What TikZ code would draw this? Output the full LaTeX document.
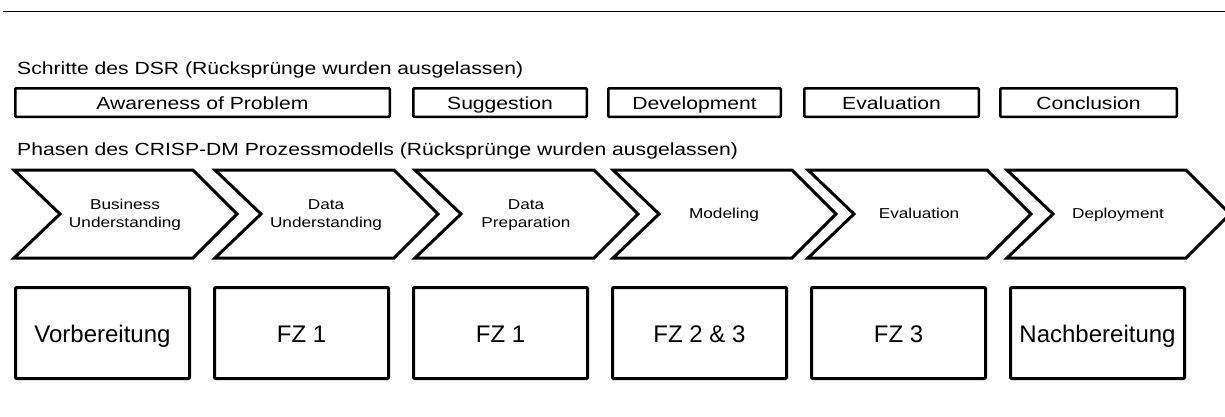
\documentclass[tikz,border=0pt]{standalone}
\usepackage{fontspec}
\setmainfont{Liberation Sans}
\newfontfamily\widefont{Liberation Sans}[FakeStretch=1.2]
\newcommand\chs{\rule[-4pt]{0pt}{15pt}}
\begin{document}
\begin{tikzpicture}[x=1pt,y=-1pt,
  dsr/.style={draw, line width=2.5pt, rounded corners=1pt, minimum height=28.5pt, inner sep=0pt, text height=14pt, text depth=0pt, font=\widefont\fontsize{17.6}{20}\selectfont},
  chev/.style={draw, line width=3pt, line join=miter},
  chevtext/.style={align=center, inner sep=0pt, font=\widefont\fontsize{14.35}{18}\selectfont},
  phase/.style={draw, line width=3pt, rounded corners=1pt, minimum width=174pt, minimum height=91pt, inner sep=0pt, text height=18.6pt, text depth=0pt, font=\fontsize{24}{28}\selectfont},
  title/.style={anchor=base west, inner sep=0pt, font=\widefont\fontsize{17.6}{20}\selectfont}]
\useasboundingbox (0,0) rectangle (1225,416);
\coordinate (l0) at (3,11);
\coordinate (l1) at (1225,11);
\draw[line width=1pt] (l0) -- (l1);
\node[title] (t1) at (17,74) {Schritte des DSR (Rücksprünge wurden ausgelassen)};
\node[dsr, minimum width=374.5pt] (d1) at (202.5,102.5) {Awareness of Problem};
\node[dsr, minimum width=173.5pt] (d2) at (500,102.5) {Suggestion};
\node[dsr, minimum width=172.5pt] (d3) at (694.5,102.5) {Development};
\node[dsr, minimum width=174.5pt] (d4) at (891.5,102.5) {Evaluation};
\node[dsr, minimum width=176.5pt] (d5) at (1088.5,102.5) {Conclusion};
\node[title] (t2) at (17,155) {Phasen des CRISP-DM Prozessmodells (Rücksprünge wurden ausgelassen)};
\foreach \L/\nm/\txt in {14/c1/{\chs Business\\\chs Understanding},215/c2/{\chs Data\\\chs Understanding},415/c3/{\chs Data\\\chs Preparation},613/c4/{\chs Modeling},808/c5/{\chs Evaluation},1007/c6/{\chs Deployment}}{
  \draw[chev] (\L,170) -- ++(179,0) -- ++(44,44) -- ++(-44,44) -- ++(-179,0) -- ++(46,-44) -- cycle;
  \node[chevtext] (\nm) at (\L+111,215) {\txt};
}
\node[phase] (p1) at (102.5,333) {Vorbereitung};
\node[phase] (p2) at (301.5,333) {FZ 1};
\node[phase] (p3) at (500.5,333) {FZ 1};
\node[phase] (p4) at (699.5,333) {FZ 2 \& 3};
\node[phase] (p5) at (898.5,333) {FZ 3};
\node[phase] (p6) at (1097.5,333) {Nachbereitung};
\end{tikzpicture}
\end{document}
